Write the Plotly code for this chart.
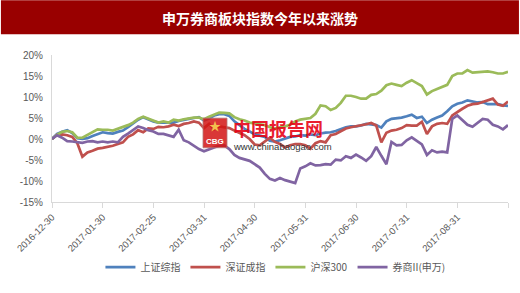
import plotly.graph_objects as go

title_text = "申万券商板块指数今年以来涨势"
tick_labels = ["2016-12-30", "2017-01-30", "2017-02-25", "2017-03-31", "2017-04-30",
               "2017-05-31", "2017-06-30", "2017-07-31", "2017-08-31", ""]
y_ticks = [-15, -10, -5, 0, 5, 10, 15, 20]
series_names = ["上证综指", "深证成指", "沪深300", "券商II(申万)"]
colors = ["#4F81BD", "#C0504D", "#9BBB59", "#8064A2"]

sh_comp = [0, 1.2, 1.7, 2.1, 1.4, 0.2, 0.0, 0.2, 0.7, 1.1,
           1.6, 1.4, 1.3, 1.7, 2.0, 2.8, 3.8, 4.6, 5.2, 4.6,
           4.2, 3.9, 3.9, 3.8, 3.9, 4.3, 4.6, 4.8, 5.0, 5.2,
           4.4, 4.9, 5.6, 5.9, 5.9, 5.5, 4.2, 3.2, 2.4, 1.8,
           1.1, 0.8, 0.5, -0.4, -0.6, -0.3, 0.1, 0.5, 0.6, 0.9,
           0.8, 1.1, 0.9, 1.3, 1.5, 1.6, 1.9, 2.3, 2.8, 3.0,
           3.0, 3.2, 3.6, 3.5, 3.3, 2.7, 4.2, 4.8, 4.9, 5.1,
           5.4, 5.8, 5.0, 5.3, 3.8, 4.6, 5.1, 5.6, 6.6, 7.8,
           8.4, 8.7, 9.2, 8.9, 8.7, 8.8, 8.3, 8.3, 8.3, 8.0, 7.9]

sz_comp = [0, 1.0, 1.1, 0.9, 0.5, -1.0, -4.2, -3.2, -2.8, -2.3,
           -2.1, -1.9, -1.6, -1.2, -0.8, 0.5, 1.1, 2.1, 1.6, 2.5,
           2.4, 2.9, 2.8, 3.0, 3.4, 3.1, 3.6, 3.8, 4.2, 3.9,
           2.6, 3.6, 2.3, 3.0, 2.8, 2.6, 2.0, 1.4, 0.9, 0.0,
           -1.3, -1.5, -0.6, 0.3, -0.7, -1.2, -2.0, -1.5, -1.2, -1.2,
           -1.5, -2.3, -1.0, -0.5, -0.8, 0.9, 1.2, 1.9, 2.5, 2.8,
           3.0, 3.3, 3.5, 3.8, 3.2, -0.8, 1.5, 2.0, 2.2, 2.6,
           3.3, 3.2, 3.2, 4.1, 1.2, 3.0, 3.6, 3.8, 3.6, 5.6,
           6.5, 7.2, 7.9, 8.3, 8.4, 8.8, 9.3, 9.6, 8.2, 7.9, 8.9]

hs300 = [0, 1.0, 1.7, 1.9, 1.6, 0.3, 0.3, 1.0, 1.6, 2.3,
         2.2, 2.2, 2.0, 2.4, 2.9, 3.3, 3.9, 4.8, 5.3, 4.8,
         4.3, 3.9, 4.2, 3.9, 4.6, 4.4, 4.7, 4.9, 5.1, 5.1,
         4.7, 5.3, 5.8, 6.3, 6.2, 6.1, 5.2, 4.7, 4.4, 3.9,
         3.7, 3.5, 3.3, 2.8, 2.5, 2.8, 3.0, 3.4, 4.2, 4.6,
         4.8, 5.0, 6.0, 8.0, 7.8, 6.9, 7.4, 8.6, 10.3, 10.3,
         10.0, 9.6, 9.6, 10.5, 10.7, 11.5, 12.8, 13.2, 12.9, 12.6,
         13.4, 14.0, 13.3, 12.6, 10.6, 11.4, 11.9, 12.4, 12.9, 15.0,
         15.6, 15.6, 16.4, 15.8, 15.9, 16.1, 16.1, 15.9, 15.6, 15.6, 16.0]

brokers = [0, 0.9, 0.3, -0.5, -0.6, -0.8, -0.9, -0.6, -0.5, -0.8,
           -0.6, -0.8, -0.6, -0.8, 0.5, 1.3, 2.2, 3.0, 2.6, 2.1,
           1.8, 1.2, 1.2, 0.8, 0.5, 2.2, -0.3, -0.8, -1.6, -2.4,
           -2.9, -2.4, -2.0, -1.6, -1.5, -2.4, -3.8, -4.5, -4.9, -5.2,
           -6.0, -6.8, -8.3, -9.5, -9.9, -9.3, -9.8, -10.2, -10.5, -7.0,
           -6.5, -5.8, -6.3, -6.2, -6.0, -6.1, -4.9, -5.1, -4.1, -4.5,
           -3.7, -4.4, -5.2, -4.1, -1.9, -4.0, -6.0, -0.7, -1.5, -1.4,
           -0.3, 0.4, -0.5, -1.3, -3.8, -2.7, -3.2, -3.0, -3.2, 4.8,
           5.6, 4.4, 3.4, 2.9, 3.8, 4.8, 4.6, 3.4, 3.0, 2.3, 3.3]

all_series = [sh_comp, sz_comp, hs300, brokers]
x_idx = list(range(len(sh_comp)))
tick_pos = list(range(0, len(sh_comp), 10))

fig = go.Figure()
for name, vals, col in zip(series_names, all_series, colors):
    fig.add_trace(go.Scatter(x=x_idx, y=vals, mode="lines", name=name,
                             line=dict(color=col, width=2.7)))

font_family = "Arial, Liberation Sans, Noto Sans CJK SC, sans-serif"

fig.update_layout(
    width=520, height=293,
    margin=dict(l=52, r=12, t=55, b=89),
    paper_bgcolor="white", plot_bgcolor="white",
    font=dict(family=font_family, size=10, color="#595959"),
    showlegend=True,
    legend=dict(orientation="h", x=0.49, xanchor="center", y=-0.443, yanchor="middle",
                font=dict(size=10, color="#595959", family="Noto Sans CJK SC, sans-serif"),
                itemwidth=30, tracegroupgap=0, bgcolor="rgba(0,0,0,0)"),
    xaxis=dict(range=[0, len(sh_comp) - 1], tickvals=tick_pos, ticktext=tick_labels,
               tickangle=-45, tickfont=dict(size=9.5, color="#595959"),
               showgrid=False, zeroline=False, showline=True, linecolor="#D9D9D9",
               linewidth=1, ticks="outside", ticklen=5, tickcolor="#D9D9D9"),
    yaxis=dict(range=[-15, 20], tickvals=y_ticks, ticktext=[f"{v}%" for v in y_ticks],
               tickfont=dict(size=10, color="#595959"), showgrid=False, zeroline=False,
               showline=True, linecolor="#D9D9D9", linewidth=1, ticks="", ticklabelstandoff=6),
)

# Title band
fig.add_shape(type="rect", xref="paper", yref="paper",
              x0=-0.112, x1=1.024, y0=1.141, y1=1.372,
              fillcolor="#990000", line=dict(width=0), layer="below")
fig.add_annotation(xref="paper", yref="paper", x=0.456, y=1.255, text=f"<b>{title_text}</b>",
                   showarrow=False, font=dict(size=14, color="white", family="Noto Sans CJK SC, sans-serif"),
                   xanchor="center", yanchor="middle")

# Watermark
fig.add_shape(type="rect", xref="paper", yref="paper",
              x0=(203 - 52) / 456, x1=(227 - 52) / 456,
              y0=(204 - 149) / 149, y1=(204 - 119) / 149,
              fillcolor="rgba(210,20,20,0.85)", line=dict(color="rgba(180,120,120,0.8)", width=1))
fig.add_annotation(xref="paper", yref="paper", x=(215 - 52) / 456, y=(204 - 143) / 149,
                   text="<b>CBG</b>", showarrow=False,
                   font=dict(size=8, color="white"), xanchor="center", yanchor="middle")
fig.add_annotation(xref="paper", yref="paper", x=(215 - 52) / 456, y=(204 - 128) / 149,
                   text="★", showarrow=False,
                   font=dict(size=12, color="#F2C14E"), xanchor="center", yanchor="middle")
fig.add_annotation(xref="paper", yref="paper", x=(231 - 52) / 456, y=(204 - 129) / 149,
                   text="<b>中国报告网</b>", showarrow=False,
                   font=dict(size=18, color="rgba(230,0,18,0.9)", family="Noto Sans CJK SC, sans-serif"),
                   xanchor="left", yanchor="middle")
fig.add_annotation(xref="paper", yref="paper", x=(231 - 52) / 456, y=(204 - 148) / 149,
                   text="www.chinabaogao.com", showarrow=False,
                   font=dict(size=9.5, color="#333333", family="Arial, Liberation Sans, sans-serif"),
                   xanchor="left", yanchor="middle")

fig.write_html("out.html")
